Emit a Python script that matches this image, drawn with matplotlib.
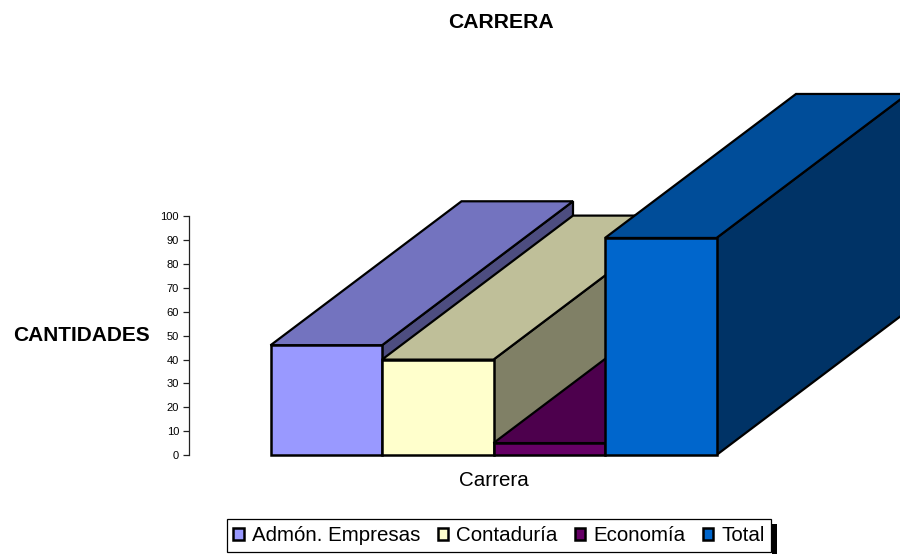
import matplotlib
matplotlib.use("Agg")
import matplotlib.pyplot as plt
from matplotlib.patches import Patch, Polygon, Rectangle

plt.rcParams['font.family'] = ['Liberation Sans', 'DejaVu Sans']

series_names = ["Admón. Empresas", "Contaduría", "Economía", "Total"]
values = [46, 40, 5, 91]
front_colors = ["#9999FF", "#FFFFCC", "#660066", "#0066CC"]
top_colors = ["#7373BF", "#BFBF99", "#4D004D", "#004D99"]
side_colors = ["#4D4D80", "#808066", "#330033", "#003366"]
y_ticks = list(range(0, 101, 10))

W, H = 900, 554
fig = plt.figure(figsize=(W / 100, H / 100), dpi=100, facecolor="white")

# axes spans px x 188.5..716.5 (left gap plus one slot per bar), y 455..216.5 (0..100)
ax = fig.add_axes([188.5 / W, (H - 455) / H, (716.5 - 188.5) / W, (455 - 216.5) / H])
ax.set_xlim(-82 / 111.5, 4)
ax.set_ylim(0, 100)
ax.patch.set_alpha(0)
depth_x = 191 / 111.5
depth_y = 144 / 2.385

for i, (v, fc, tc, sc) in enumerate(zip(values, front_colors, top_colors, side_colors)):
    kw = dict(edgecolor="black", linewidth=1.6, joinstyle="miter", clip_on=False)
    ax.add_patch(Polygon([(i + 1, 0), (i + 1 + depth_x, depth_y), (i + 1 + depth_x, v + depth_y), (i + 1, v)],
                         facecolor=sc, zorder=i + 1, **kw))
    ax.add_patch(Polygon([(i, v), (i + depth_x, v + depth_y), (i + 1 + depth_x, v + depth_y), (i + 1, v)],
                         facecolor=tc, zorder=i + 1, **kw))
    ax.bar(i, v, width=1, align="edge", facecolor=fc, edgecolor="black", linewidth=1.8,
           zorder=i + 1.5, clip_on=False)

for s in ["top", "right", "bottom"]:
    ax.spines[s].set_visible(False)
ax.spines["left"].set_color("#222222")
ax.spines["left"].set_linewidth(0.9)
ax.set_xticks([])
ax.set_yticks(y_ticks)
ax.tick_params(axis="y", length=4.2, width=0.9, color="#222222", labelsize=8, pad=2.6)

fig.text(501 / W, 1 - 22.5 / H, "CARRERA", ha="center", va="center", fontsize=15.2, fontweight="bold")
fig.text(81.5 / W, 1 - 335.5 / H, "CANTIDADES", ha="center", va="center", fontsize=15, fontweight="bold")
fig.text(494 / W, 1 - 480 / H, "Carrera", ha="center", va="center", fontsize=14.8)

handles = [Patch(facecolor=c, edgecolor="black", linewidth=1.8) for c in front_colors]
leg = fig.legend(handles, series_names, ncol=4, loc="center", bbox_to_anchor=(499 / W, 1 - 535.5 / H),
                 fontsize=14.8, frameon=True, fancybox=False, edgecolor="black", framealpha=1,
                 handlelength=0.52, handleheight=0.52, handletextpad=0.38, columnspacing=0.84,
                 borderpad=0.32, borderaxespad=0)
leg.get_frame().set_linewidth(0.9)
fig.add_artist(Rectangle((772 / W, 0), 5 / W, (H - 524) / H, transform=fig.transFigure,
                         facecolor="black", edgecolor="none"))

fig.savefig("out.png", dpi=100)
